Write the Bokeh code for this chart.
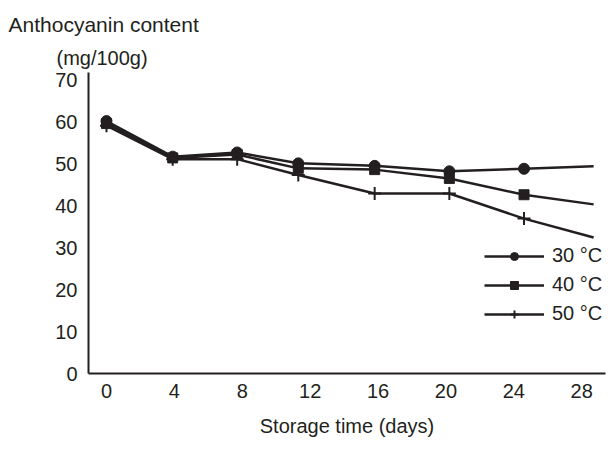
from bokeh.plotting import figure
from bokeh.models import Range1d, Legend, LegendItem, Title, FixedTicker
from bokeh.embed import file_html
from bokeh.resources import INLINE

# ---- data ----
days = [0, 3.9, 7.7, 11.3, 15.8, 20.2, 24.6, 28.7]
anth_30 = [60.3, 51.8, 52.8, 50.2, 49.6, 48.3, 48.9, 49.5]
anth_40 = [59.7, 51.5, 52.3, 49.0, 48.7, 46.6, 42.7, 40.4]
anth_50 = [59.2, 51.2, 51.2, 47.4, 43.0, 43.0, 37.0, 32.5]
series_labels = ["30 \u00b0C", "40 \u00b0C", "50 \u00b0C"]
x_ticks = [0, 4, 8, 12, 16, 20, 24, 28]
y_ticks = [0, 10, 20, 30, 40, 50, 60, 70]

INK = "#231f20"
FONT = "Liberation Sans"
FS = "20px"

p = figure(width=611, height=450, output_backend="svg", toolbar_location=None,
           x_range=Range1d(-1.06, 29.4), y_range=Range1d(0, 71.9),
           min_border_left=88, min_border_right=6, min_border_top=72, min_border_bottom=77)
p.outline_line_color = None
p.xgrid.visible = False
p.ygrid.visible = False
p.background_fill_color = "white"
p.border_fill_color = "white"

for ax in (p.xaxis[0], p.yaxis[0]):
    ax.axis_line_color = INK
    ax.axis_line_width = 2
    ax.major_tick_line_color = None
    ax.minor_tick_line_color = None
    ax.major_label_text_font = FONT
    ax.major_label_text_font_size = FS
    ax.major_label_text_color = INK

p.xaxis[0].ticker = FixedTicker(ticks=x_ticks)
p.yaxis[0].ticker = FixedTicker(ticks=y_ticks)
p.xaxis[0].major_label_standoff = 4
p.yaxis[0].major_label_standoff = 5
p.xaxis[0].axis_label = "Storage time (days)"
p.xaxis[0].axis_label_text_font = FONT
p.xaxis[0].axis_label_text_font_size = FS
p.xaxis[0].axis_label_text_font_style = "normal"
p.xaxis[0].axis_label_text_color = INK
p.xaxis[0].axis_label_standoff = 14

LW = 2.5
l30 = p.line(days, anth_30, line_color=INK, line_width=LW)
m30 = p.scatter(days[:-1], anth_30[:-1], marker="circle", size=11,
                fill_color=INK, line_color=INK)
l40 = p.line(days, anth_40, line_color=INK, line_width=LW)
m40 = p.scatter(days[:-1], anth_40[:-1], marker="square", size=10,
                fill_color=INK, line_color=INK)
l50 = p.line(days, anth_50, line_color=INK, line_width=LW)
m50 = p.scatter(days[:-1], anth_50[:-1], marker="cross", size=13,
                line_color=INK, line_width=2)

legend = Legend(items=[
    LegendItem(label=series_labels[0], renderers=[l30, m30]),
    LegendItem(label=series_labels[1], renderers=[l40, m40]),
    LegendItem(label=series_labels[2], renderers=[l50, m50]),
], location=(396, 48))
legend.background_fill_alpha = 0
legend.border_line_color = None
legend.padding = 0
legend.margin = 0
legend.spacing = 6
legend.glyph_width = 60
legend.glyph_height = 20
legend.label_height = 20
legend.label_standoff = 8
legend.label_text_font = FONT
legend.label_text_font_size = FS
legend.label_text_color = INK
p.add_layout(legend)

t2 = Title(text="(mg/100g)", align="left", offset=-32, standoff=8,
           text_font=FONT, text_font_size=FS, text_font_style="normal", text_color=INK)
t1 = Title(text="Anthocyanin content", align="left", offset=-80, standoff=10,
           text_font=FONT, text_font_size="21px", text_font_style="normal", text_color=INK)
p.add_layout(t2, "above")
p.add_layout(t1, "above")

open("out.html", "w").write(file_html(p, INLINE))
